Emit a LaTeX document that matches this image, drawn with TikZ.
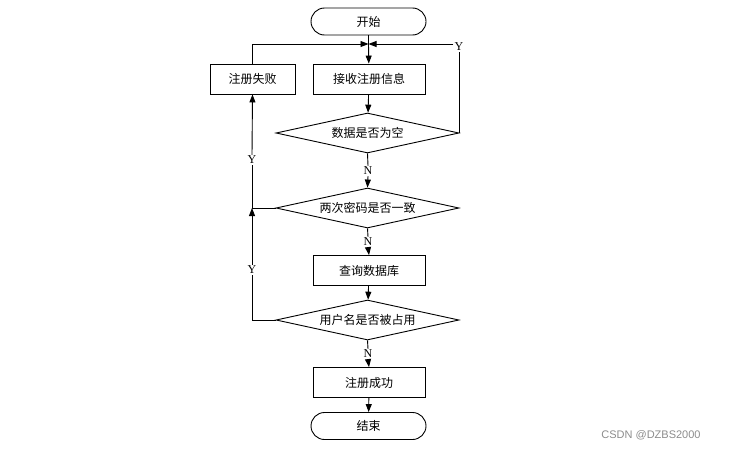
\documentclass[tikz,border=0pt]{standalone}
\usepackage{fontspec}
\setmainfont{Liberation Serif}
\newfontfamily\cjk{Noto Sans CJK SC}
\newfontfamily\wmfont{Liberation Sans}
\usetikzlibrary{shapes.geometric,arrows.meta}
\tikzset{
  base/.style={draw=black, line width=0.9pt, font=\cjk\fontsize{12}{12}\selectfont, inner sep=0pt},
  procbox/.style={base, rectangle, minimum width=112pt, minimum height=30pt},
  termbox/.style={base, rectangle, rounded corners=13.5pt, minimum width=115pt, minimum height=27pt},
  decbox/.style={base, diamond, aspect=4.6, minimum width=183pt, minimum height=40pt},
  lbl/.style={font=\fontsize{12}{12}\selectfont, inner sep=1pt, fill=white},
  conn/.style={line width=0.9pt},
  arr/.style={conn, -{Triangle[length=8pt,width=6pt]}},
}
\begin{document}
\begin{tikzpicture}[x=1pt,y=-1pt]
\useasboundingbox (0,0) rectangle (738,450);
\node[termbox] (start) at (368.5,21.5) {开始};
\coordinate (m) at (368.5,44);
\node[procbox] (recv) at (369,79) {接收注册信息};
\node[procbox, minimum width=85pt] (fail) at (252.5,79) {注册失败};
\node[decbox] (d1) at (367.5,133) {数据是否为空};
\node[lbl] (y1) at (459,47) {Y};
\node[lbl] (n1) at (368,171) {N};
\node[decbox] (d2) at (367.5,208) {两次密码是否一致};
\coordinate (j2) at (252,208);
\node[lbl] (ya) at (252,160) {Y};
\node[lbl] (n2) at (368,242) {N};
\node[procbox] (query) at (369,270.5) {查询数据库};
\node[decbox] (d3) at (367.5,320) {用户名是否被占用};
\coordinate (j3) at (252,320);
\node[lbl] (yb) at (252,270) {Y};
\node[lbl] (n3) at (368,354) {N};
\node[procbox] (ok) at (369,382.5) {注册成功};
\node[termbox] (end) at (368.5,426) {结束};
\node[font=\wmfont\fontsize{11}{12}\selectfont, text=black!45, inner sep=0pt] (wm) at (651,435) {CSDN @DZBS2000};

\draw[conn] (start) -- (m);
\draw[arr] (m) -- (recv);
\draw[arr] (fail.north) |- (m);
\draw[conn] (d1.east) -- (d1.east |- y1.south);
\draw[arr] (y1.west |- m) -- (m);
\draw[arr] (recv) -- (d1);
\draw[conn] (d1.south) -- (n1.north);
\draw[arr] (n1.south) -- (d2.north);
\draw[conn] (d2.west) -- (j2) -- (ya.south);
\draw[arr] (ya.north) -- (fail.south);
\draw[conn] (d3.west) -- (j3) -- (yb.south);
\draw[arr] (yb.north) -- (j2);
\draw[conn] (d2.south) -- (n2.north);
\draw[arr] (n2.south) -- (query.north);
\draw[arr] (query) -- (d3);
\draw[conn] (d3.south) -- (n3.north);
\draw[arr] (n3.south) -- (ok.north);
\draw[arr] (ok) -- (end);
\end{tikzpicture}
\end{document}
